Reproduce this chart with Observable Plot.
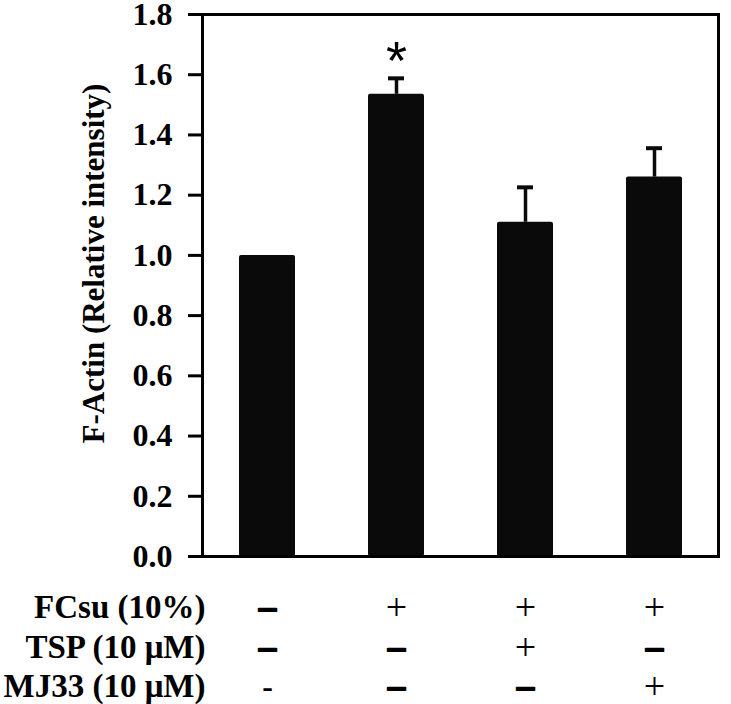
<!DOCTYPE html>
<html><head><meta charset="utf-8">
<script src="https://cdn.jsdelivr.net/npm/d3@7"></script>
<script src="https://cdn.jsdelivr.net/npm/@observablehq/plot@0.6"></script>
<style>html,body{margin:0;padding:0;background:#fff}</style>
</head><body><div id="chart"></div>
<script>
// ---- data ----
const groups = ["G1", "G2", "G3", "G4"];
const values = [1.00, 1.535, 1.11, 1.26];
const errors = [0, 0.053, 0.116, 0.096];
const marks = ["", "*", "", ""];
const yTicks = [0.0, 0.2, 0.4, 0.6, 0.8, 1.0, 1.2, 1.4, 1.6, 1.8];
const yLabel = "F-Actin (Relative intensity)";
const rowLabels = ["FCsu (10%)", "TSP (10 \u03bcM)", "MJ33 (10 \u03bcM)"];
const fcsuSigns = ["\u2013", "+", "+", "+"];
const tspSigns = ["\u2013", "\u2013", "+", "\u2013"];
const mj33Signs = ["-", "\u2013", "\u2013", "+"];

const data = groups.map((g, i) => ({group: g, value: values[i], top: values[i] + errors[i], err: errors[i], mark: marks[i]}));
const signRows = [fcsuSigns, tspSigns, mj33Signs];
const rowDy = [51, 91, 130];
const serif = "Liberation Serif, Times New Roman, serif";

const signMarks = [];
signRows.forEach((row, r) => {
  const rows = groups.map((g, i) => ({group: g, sign: row[i]}));
  signMarks.push(Plot.text(rows.filter(d => d.sign === "+"), {x: "group", y: () => 0, text: "sign", dy: rowDy[r], fontSize: 38, fontWeight: "normal", fontFamily: serif, fill: "black"}));
  signMarks.push(Plot.text(rows.filter(d => d.sign === "\u2013"), {x: "group", y: () => 0, text: "sign", dy: rowDy[r], fontSize: 34, fontWeight: "bold", fontFamily: serif, fill: "black", stroke: "black", strokeWidth: 2}));
  signMarks.push(Plot.text(rows.filter(d => d.sign === "-"), {x: "group", y: () => 0, text: "sign", dy: rowDy[r], fontSize: 32, fontWeight: "bold", fontFamily: serif, fill: "black"}));
  signMarks.push(Plot.text([rowLabels[r]], {y: () => 0, frameAnchor: "left", textAnchor: "end", dx: 3, dy: rowDy[r], text: d => d, fontSize: 33, fontWeight: "bold", fontFamily: serif, fill: "black", ariaLabel: "row-label"}));
});

const chart = Plot.plot({
  width: 731,
  height: 704,
  marginTop: 14,
  marginBottom: 148,
  marginLeft: 202,
  marginRight: 13,
  style: {fontFamily: serif, background: "white", color: "black"},
  x: {domain: groups, paddingInner: 0.567, paddingOuter: 0.283, axis: null},
  y: {domain: [0, 1.8], axis: null},
  marks: [
    Plot.barY(data, {x: "group", y: "value", fill: "#0a0a0a", rx: 2}),
    Plot.ruleX(data.filter(d => d.err > 0), {x: "group", y1: "value", y2: "top", stroke: "#0a0a0a", strokeWidth: 3.5}),
    Plot.tickY(data.filter(d => d.err > 0), {x: "group", y: "top", stroke: "#0a0a0a", strokeWidth: 4, insetLeft: 20, insetRight: 20}),
    Plot.text(data.filter(d => d.mark), {x: "group", y: "top", text: "mark", dy: -17, fontSize: 54, fontFamily: "Liberation Sans, Arial, sans-serif", fill: "black"}),
    Plot.frame({stroke: "black", strokeWidth: 3}),
    Plot.axisY({ticks: yTicks, tickFormat: d => d.toFixed(1), tickSize: 14, tickPadding: 16, strokeWidth: 3, stroke: "black", fill: "black", fontSize: 32, fontWeight: "bold", label: null}),
    Plot.text([yLabel], {frameAnchor: "left", textAnchor: "middle", dx: -108, dy: -22, rotate: -90, text: d => d, fontSize: 31, fontWeight: "bold", fontFamily: serif, fill: "black"}),
    ...signMarks
  ]
});
chart.querySelectorAll('g[aria-label="row-label"] text').forEach(t => {
  t.setAttribute("transform", (t.getAttribute("transform") || "") + " scale(1,1.15)");
});
document.getElementById("chart").append(chart);
</script>
</body></html>
